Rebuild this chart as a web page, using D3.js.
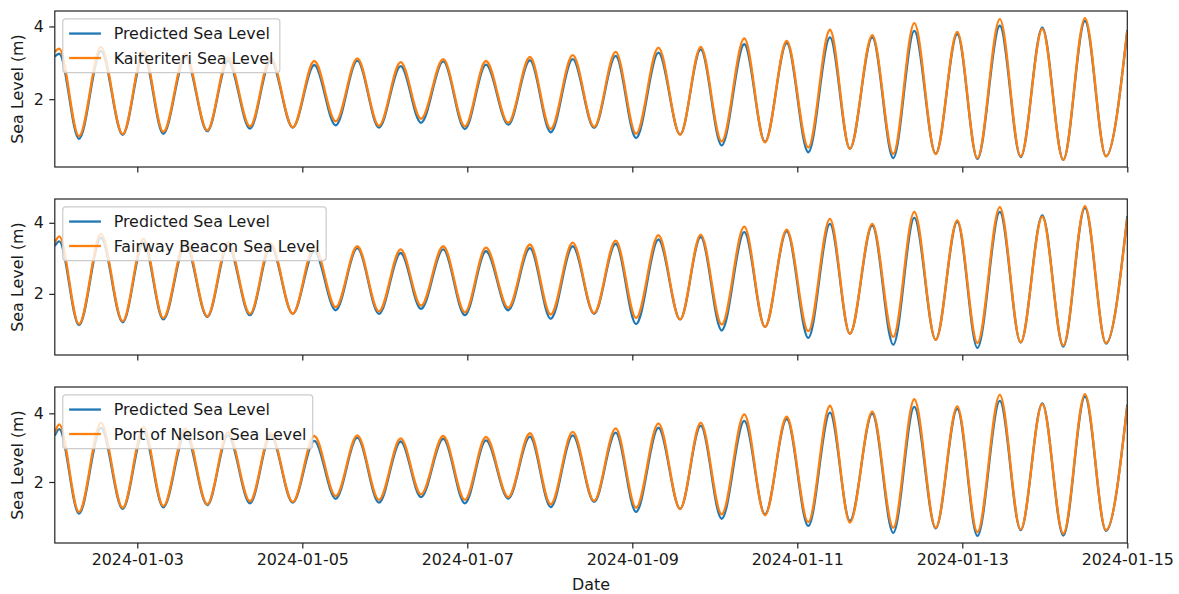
<!DOCTYPE html>
<html>
<head>
<meta charset="utf-8">
<script src="https://cdn.jsdelivr.net/npm/d3@7"></script>
<style>
  body { margin: 0; background: white; }
  text { font-family: "DejaVu Sans", sans-serif; fill: #1a1a1a; }
</style>
</head>
<body>
<script>
// times of the tide turns (high / low), plus the ends of the window
var times = [
  "2024-01-02 00:00",
  "2024-01-02 01:18", "2024-01-02 07:02", "2024-01-02 13:26", "2024-01-02 19:45",
  "2024-01-03 01:48", "2024-01-03 07:34", "2024-01-03 14:00", "2024-01-03 20:22",
  "2024-01-04 02:23", "2024-01-04 08:47", "2024-01-04 14:48", "2024-01-04 21:13",
  "2024-01-05 03:29", "2024-01-05 09:43", "2024-01-05 16:00", "2024-01-05 22:18",
  "2024-01-06 04:37", "2024-01-06 10:32", "2024-01-06 17:00", "2024-01-06 23:18",
  "2024-01-07 05:26", "2024-01-07 11:55", "2024-01-07 18:13", "2024-01-08 00:16",
  "2024-01-08 06:40", "2024-01-08 12:53", "2024-01-08 19:10", "2024-01-09 01:06",
  "2024-01-09 07:36", "2024-01-09 13:55", "2024-01-09 19:54", "2024-01-10 02:00",
  "2024-01-10 08:35", "2024-01-10 14:36", "2024-01-10 20:55", "2024-01-11 03:12",
  "2024-01-11 09:30", "2024-01-11 15:18", "2024-01-11 21:49", "2024-01-12 03:55",
  "2024-01-12 10:02", "2024-01-12 16:16", "2024-01-12 22:32", "2024-01-13 04:24",
  "2024-01-13 10:55", "2024-01-13 16:59", "2024-01-13 23:16", "2024-01-14 05:23",
  "2024-01-14 11:41", "2024-01-14 17:48",
  "2024-01-15 00:00"
];

var kaiteriteriPredicted = [3.18,
  3.25, 0.91, 3.33, 1.02, 3.22, 1.05, 3.16, 1.12, 3.05, 1.19, 3.06, 1.22,
  2.94, 1.28, 3.06, 1.22, 2.91, 1.35, 3.04, 1.18, 2.95, 1.30, 3.07, 1.09,
  3.10, 1.21, 3.19, 0.93, 3.28, 1.03, 3.37, 0.73, 3.51, 0.83, 3.54, 0.54,
  3.70, 0.64, 3.70, 0.38, 3.88, 0.50, 3.79, 0.36, 4.02, 0.41, 3.97, 0.33,
  4.15, 0.43, 3.90];
var kaiteriteriObserved = [3.30,
  3.39, 0.98, 3.44, 1.04, 3.32, 1.10, 3.25, 1.14, 3.14, 1.25, 3.15, 1.23,
  3.05, 1.39, 3.12, 1.27, 3.02, 1.46, 3.10, 1.25, 3.05, 1.35, 3.16, 1.18,
  3.21, 1.24, 3.30, 1.05, 3.42, 1.02, 3.44, 0.84, 3.67, 0.81, 3.60, 0.67,
  3.91, 0.64, 3.76, 0.50, 4.09, 0.49, 3.85, 0.38, 4.20, 0.43, 3.93, 0.33,
  4.23, 0.43, 3.88];

var fairwayPredicted = [3.35,
  3.48, 1.12, 3.58, 1.20, 3.45, 1.28, 3.40, 1.35, 3.36, 1.40, 3.34, 1.44,
  3.20, 1.54, 3.29, 1.44, 3.15, 1.58, 3.25, 1.40, 3.20, 1.54, 3.29, 1.30,
  3.34, 1.44, 3.41, 1.15, 3.53, 1.28, 3.60, 0.97, 3.74, 1.07, 3.76, 0.76,
  3.97, 0.88, 3.92, 0.57, 4.14, 0.71, 4.03, 0.48, 4.31, 0.63, 4.21, 0.52,
  4.42, 0.60, 4.19];
var fairwayObserved = [3.44,
  3.62, 1.15, 3.69, 1.23, 3.55, 1.32, 3.50, 1.37, 3.45, 1.44, 3.42, 1.44,
  3.34, 1.63, 3.34, 1.51, 3.25, 1.67, 3.34, 1.48, 3.30, 1.61, 3.39, 1.42,
  3.44, 1.46, 3.50, 1.32, 3.65, 1.28, 3.67, 1.14, 3.89, 1.07, 3.81, 0.95,
  4.11, 0.88, 3.97, 0.79, 4.31, 0.71, 4.07, 0.62, 4.44, 0.64, 4.17, 0.55,
  4.47, 0.62, 4.14];

var nelsonPredicted = [3.35,
  3.54, 1.08, 3.58, 1.22, 3.46, 1.26, 3.42, 1.33, 3.36, 1.38, 3.35, 1.40,
  3.20, 1.51, 3.29, 1.40, 3.18, 1.56, 3.26, 1.38, 3.21, 1.52, 3.32, 1.27,
  3.36, 1.42, 3.44, 1.13, 3.58, 1.22, 3.64, 0.93, 3.78, 1.06, 3.83, 0.72,
  4.02, 0.87, 3.99, 0.52, 4.19, 0.65, 4.13, 0.43, 4.36, 0.60, 4.29, 0.44,
  4.49, 0.58, 4.25];
var nelsonObserved = [3.44,
  3.68, 1.13, 3.73, 1.25, 3.60, 1.30, 3.55, 1.35, 3.45, 1.44, 3.42, 1.42,
  3.34, 1.59, 3.36, 1.48, 3.27, 1.64, 3.34, 1.48, 3.31, 1.56, 3.42, 1.35,
  3.46, 1.45, 3.56, 1.25, 3.71, 1.22, 3.73, 1.06, 3.97, 1.03, 3.90, 0.83,
  4.22, 0.82, 4.05, 0.67, 4.41, 0.67, 4.20, 0.54, 4.54, 0.62, 4.27, 0.50,
  4.56, 0.60, 4.22];

var stations = ["Kaiteriteri", "Fairway Beacon", "Port of Nelson"];
var predictedSeries = [kaiteriteriPredicted, fairwayPredicted, nelsonPredicted];
var observedSeries = [kaiteriteriObserved, fairwayObserved, nelsonObserved];
var xTickLabels = ["2024-01-03", "2024-01-05", "2024-01-07", "2024-01-09",
                   "2024-01-11", "2024-01-13", "2024-01-15"];
var yTicks = [2, 4];

var blue = "#1f77b4", orange = "#ff7f0e";
var fontSize = 15.9;
var width = 1179, height = 594;
var left = 54.8, right = 1127.3;
var panelTop = 11, panelHeight = 156, panelGap = 32;

var parseTime = d3.timeParse("%Y-%m-%d %H:%M");
var dates = times.map(parseTime);

var svg = d3.select("body").append("svg")
    .attr("width", width)
    .attr("height", height);

var x = d3.scaleTime()
    .domain([dates[0], dates[dates.length - 1]])
    .range([left, right]);

stations.forEach((name, i) => {
    let top = panelTop + i * (panelHeight + panelGap);
    let bottom = top + panelHeight;
    let pred = predictedSeries[i], obs = observedSeries[i];

    // matplotlib style 5% margins
    let lo = Math.min(d3.min(pred), d3.min(obs));
    let hi = Math.max(d3.max(pred), d3.max(obs));
    let pad = (hi - lo) * 0.05;
    let y = d3.scaleLinear().domain([lo - pad, hi + pad]).range([bottom, top]);

    let g = svg.append("g");

    g.append("clipPath").attr("id", "clip" + i)
        .append("rect")
        .attr("x", left).attr("y", top)
        .attr("width", right - left).attr("height", panelHeight);

    let line = d3.line()
        .x((d, j) => x(dates[j]))
        .y(d => y(d))
        .curve(d3.curveMonotoneX);

    let lines = g.append("g").attr("clip-path", "url(#clip" + i + ")");
    lines.append("path")
        .attr("d", line(pred))
        .attr("fill", "none")
        .attr("stroke", blue)
        .attr("stroke-width", 2.3);
    lines.append("path")
        .attr("d", line(obs))
        .attr("fill", "none")
        .attr("stroke", orange)
        .attr("stroke-width", 2.3);

    // axes
    let xAxis = d3.axisBottom(x)
        .tickValues(xTickLabels.map(d => d3.timeParse("%Y-%m-%d")(d)))
        .tickSize(5.5).tickSizeOuter(0).tickPadding(5.5)
        .tickFormat(i == stations.length - 1 ? d3.timeFormat("%Y-%m-%d") : "");
    let gx = g.append("g").attr("transform", `translate(0,${bottom})`).call(xAxis);

    let yAxis = d3.axisLeft(y)
        .tickValues(yTicks)
        .tickSize(5.5).tickSizeOuter(0).tickPadding(5.5)
        .tickFormat(d3.format("d"));
    let gy = g.append("g").attr("transform", `translate(${left},0)`).call(yAxis);

    [gx, gy].forEach(a => {
        a.select(".domain").remove();
        a.selectAll(".tick line").attr("stroke", "#222").attr("stroke-width", 1.2);
        a.selectAll(".tick text")
            .style("font-family", "DejaVu Sans")
            .style("font-size", fontSize + "px")
            .attr("fill", "#1a1a1a");
    });

    g.append("rect")
        .attr("x", left).attr("y", top)
        .attr("width", right - left).attr("height", panelHeight)
        .attr("fill", "none")
        .attr("stroke", "#222")
        .attr("stroke-width", 1.2);

    g.append("text")
        .attr("transform", `translate(${17.5},${(top + bottom) / 2}) rotate(-90)`)
        .attr("text-anchor", "middle")
        .attr("dominant-baseline", "central")
        .style("font-size", fontSize + "px")
        .text("Sea Level (m)");

    // legend
    let labels = ["Predicted Sea Level", name + " Sea Level"];
    let colors = [blue, orange];
    let lx = left + 0.5 * fontSize, ly = top + 0.5 * fontSize;
    let bpad = 0.4 * fontSize, handle = 2 * fontSize, htpad = 0.8 * fontSize;
    let rowH = 16.5, spacing = 0.5 * fontSize;
    let leg = g.append("g");
    let box = leg.append("rect")
        .attr("x", lx).attr("y", ly)
        .attr("rx", 3).attr("ry", 3)
        .attr("fill", "white").attr("fill-opacity", 0.8)
        .attr("stroke", "#cccccc").attr("stroke-width", 1.2);
    let maxW = 0;
    labels.forEach((lab, k) => {
        let cy = ly + bpad + rowH / 2 + k * (rowH + spacing);
        leg.append("line")
            .attr("x1", lx + bpad).attr("x2", lx + bpad + handle)
            .attr("y1", cy).attr("y2", cy)
            .attr("stroke", colors[k]).attr("stroke-width", 2.3);
        let t = leg.append("text")
            .attr("x", lx + bpad + handle + htpad)
            .attr("y", cy)
            .attr("dominant-baseline", "central")
            .style("font-size", fontSize + "px")
            .text(lab);
        maxW = Math.max(maxW, t.node().getComputedTextLength());
    });
    box.attr("width", bpad + handle + htpad + maxW + bpad)
        .attr("height", 2 * bpad + 2 * rowH + spacing);
});

svg.append("text")
    .attr("x", (left + right) / 2)
    .attr("y", 590)
    .attr("text-anchor", "middle")
    .style("font-size", fontSize + "px")
    .text("Date");
</script>
</body>
</html>
